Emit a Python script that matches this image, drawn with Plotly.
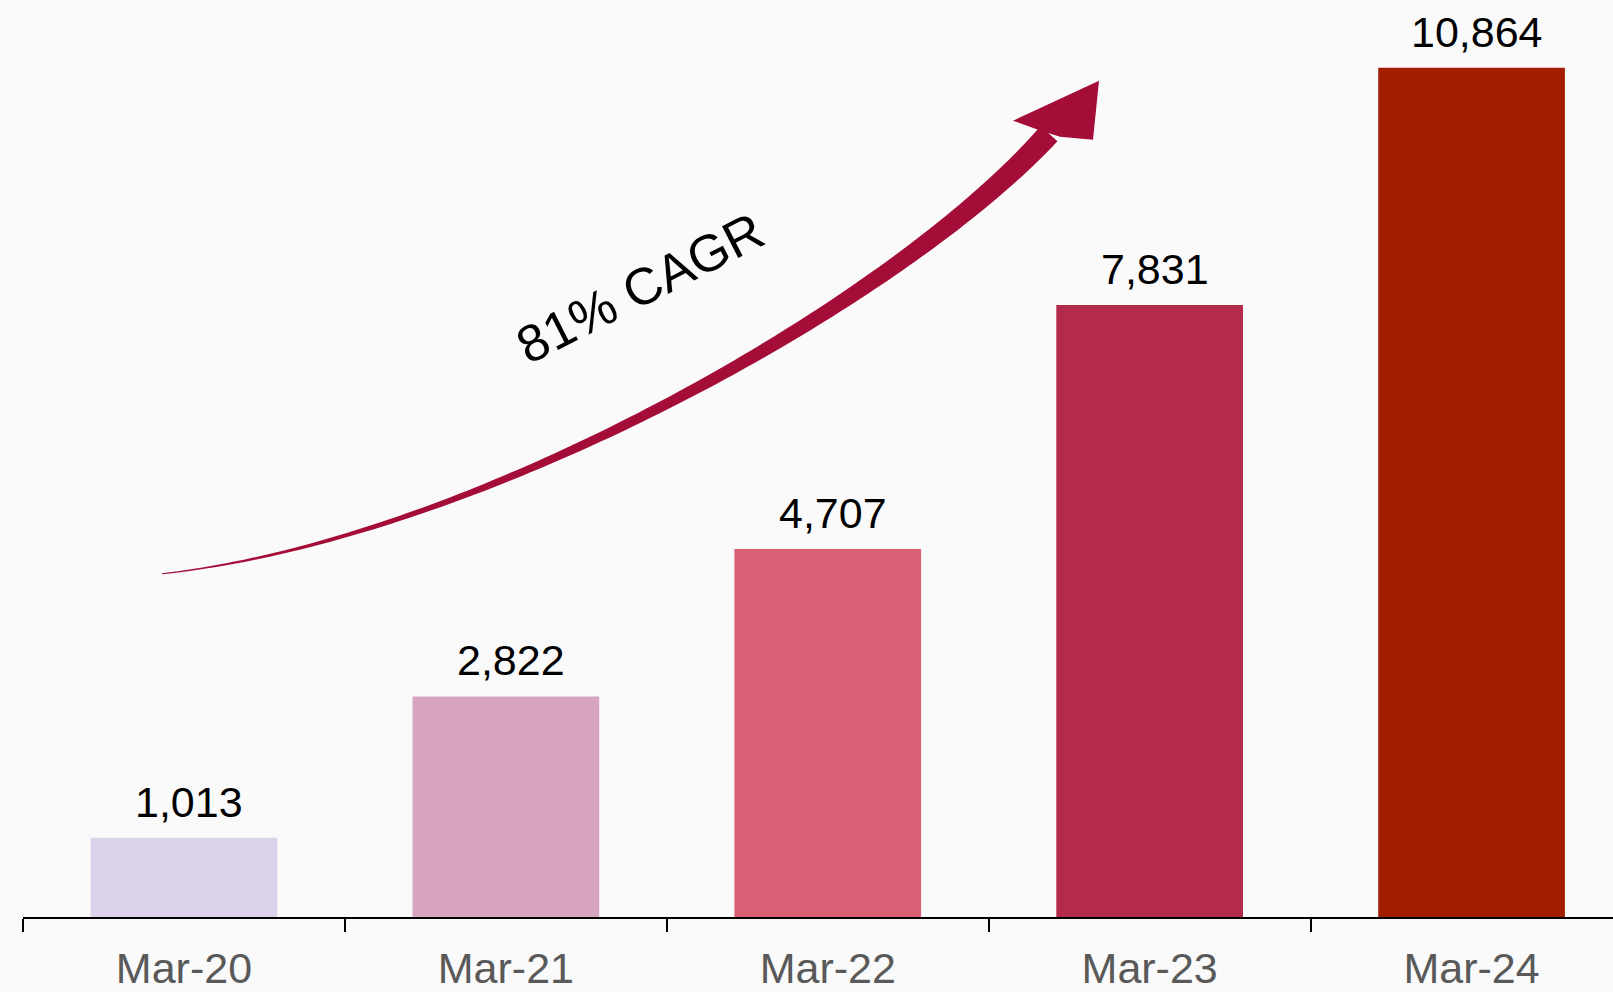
import numpy as np
import plotly.graph_objects as go

# data
PERIODS = ["Mar-20", "Mar-21", "Mar-22", "Mar-23", "Mar-24"]
VALUES = [1013, 2822, 4707, 7831, 10864]
BAR_COLORS = ["#dcd3ea", "#d7a5bf", "#db6076", "#b32a4a", "#a31d00"]
CAGR_LABEL = "81% CAGR"

FONT = "Liberation Sans, Arial, sans-serif"
BG = "#fafafa"
ARROW_COLOR = "#a50d39"

W, H = 1613, 992
M_L, M_R, M_T, M_B = 23, 0, 0, 73
PLOT_W = W - M_L - M_R
PLOT_H = H - M_T - M_B
PX_PER_UNIT = 0.07833  # vertical pixels per value unit


def to_paper(px, py):
    return (px - M_L) / PLOT_W, (M_T + PLOT_H - py) / PLOT_H


def bezier(p0, p1, p2, p3, t):
    t = t[:, None]
    return ((1 - t) ** 3 * p0 + 3 * (1 - t) ** 2 * t * p1
            + 3 * (1 - t) * t ** 2 * p2 + t ** 3 * p3)


def path_str(arr):
    parts = []
    for i, (x, y) in enumerate(arr):
        px, py = to_paper(x, y)
        parts.append(("M" if i == 0 else "L") + f"{px:.5f},{py:.5f}")
    return " ".join(parts) + " Z"


def arrow_paths():
    # decorative swoosh, laid out in pixel space then mapped to paper
    p0 = np.array([162.0, 575.0])
    p1 = np.array([480.0, 540.0])
    p2 = np.array([900.0, 300.0])
    p3 = np.array([1049.0, 134.0])

    t = np.linspace(0, 1, 120)
    pts = bezier(p0, p1, p2, p3, t)
    d = np.gradient(pts, axis=0)
    d /= np.linalg.norm(d, axis=1)[:, None]
    n = np.stack([-d[:, 1], d[:, 0]], axis=1)
    w = 0.6 + 10.8 * t ** 1.2

    left = pts + n * w[:, None]
    right = pts - n * w[:, None]
    shaft = np.vstack([left, right[::-1]])

    # slightly lopsided head, like the original artwork
    head = np.array([
        [1099.0, 81.0],
        [1013.0, 121.0],
        [1038.0, 130.0],
        [1060.0, 137.0],
        [1093.0, 140.0],
    ])
    return path_str(shaft), path_str(head)


fig = go.Figure()

fig.add_trace(
    go.Bar(
        x=PERIODS,
        y=VALUES,
        marker=dict(color=BAR_COLORS, line=dict(width=0)),
        width=0.58,
        hoverinfo="skip",
        showlegend=False,
    )
)

# value labels above bars
for cat, val in zip(PERIODS, VALUES):
    fig.add_annotation(
        x=cat,
        y=val,
        text=f"{val:,}",
        showarrow=False,
        yanchor="bottom",
        yshift=10,
        xshift=5,
        font=dict(family=FONT, size=43, color="#000000"),
    )

shaft, head = arrow_paths()
for p in (shaft, head):
    fig.add_shape(
        type="path",
        path=p,
        xref="paper",
        yref="paper",
        fillcolor=ARROW_COLOR,
        line=dict(width=0),
        layer="above",
    )

cx, cy = to_paper(640, 289)
fig.add_annotation(
    x=cx,
    y=cy,
    xref="paper",
    yref="paper",
    xanchor="center",
    yanchor="middle",
    text=CAGR_LABEL,
    textangle=-27,
    showarrow=False,
    font=dict(family=FONT, size=52, color="#000000"),
)

fig.update_xaxes(
    type="category",
    range=[-0.5, -0.5 + PLOT_W / 321.9],
    tickson="boundaries",
    ticks="outside",
    ticklen=13,
    tickwidth=2,
    tickcolor="#000000",
    showline=True,
    linecolor="#000000",
    linewidth=2,
    showgrid=False,
    ticklabelstandoff=12,
    tickfont=dict(family=FONT, size=43, color="#595959"),
)

fig.update_yaxes(
    visible=False,
    range=[0, PLOT_H / PX_PER_UNIT],
    showgrid=False,
    zeroline=False,
)

fig.update_layout(
    width=W,
    height=H,
    margin=dict(l=M_L, r=M_R, t=M_T, b=M_B),
    paper_bgcolor=BG,
    plot_bgcolor=BG,
    font=dict(family=FONT),
    showlegend=False,
)

fig.write_html(
    "out.html",
    config={"displayModeBar": False},
    post_script="document.body.style.margin='0';document.body.style.background='#fafafa';",
)
